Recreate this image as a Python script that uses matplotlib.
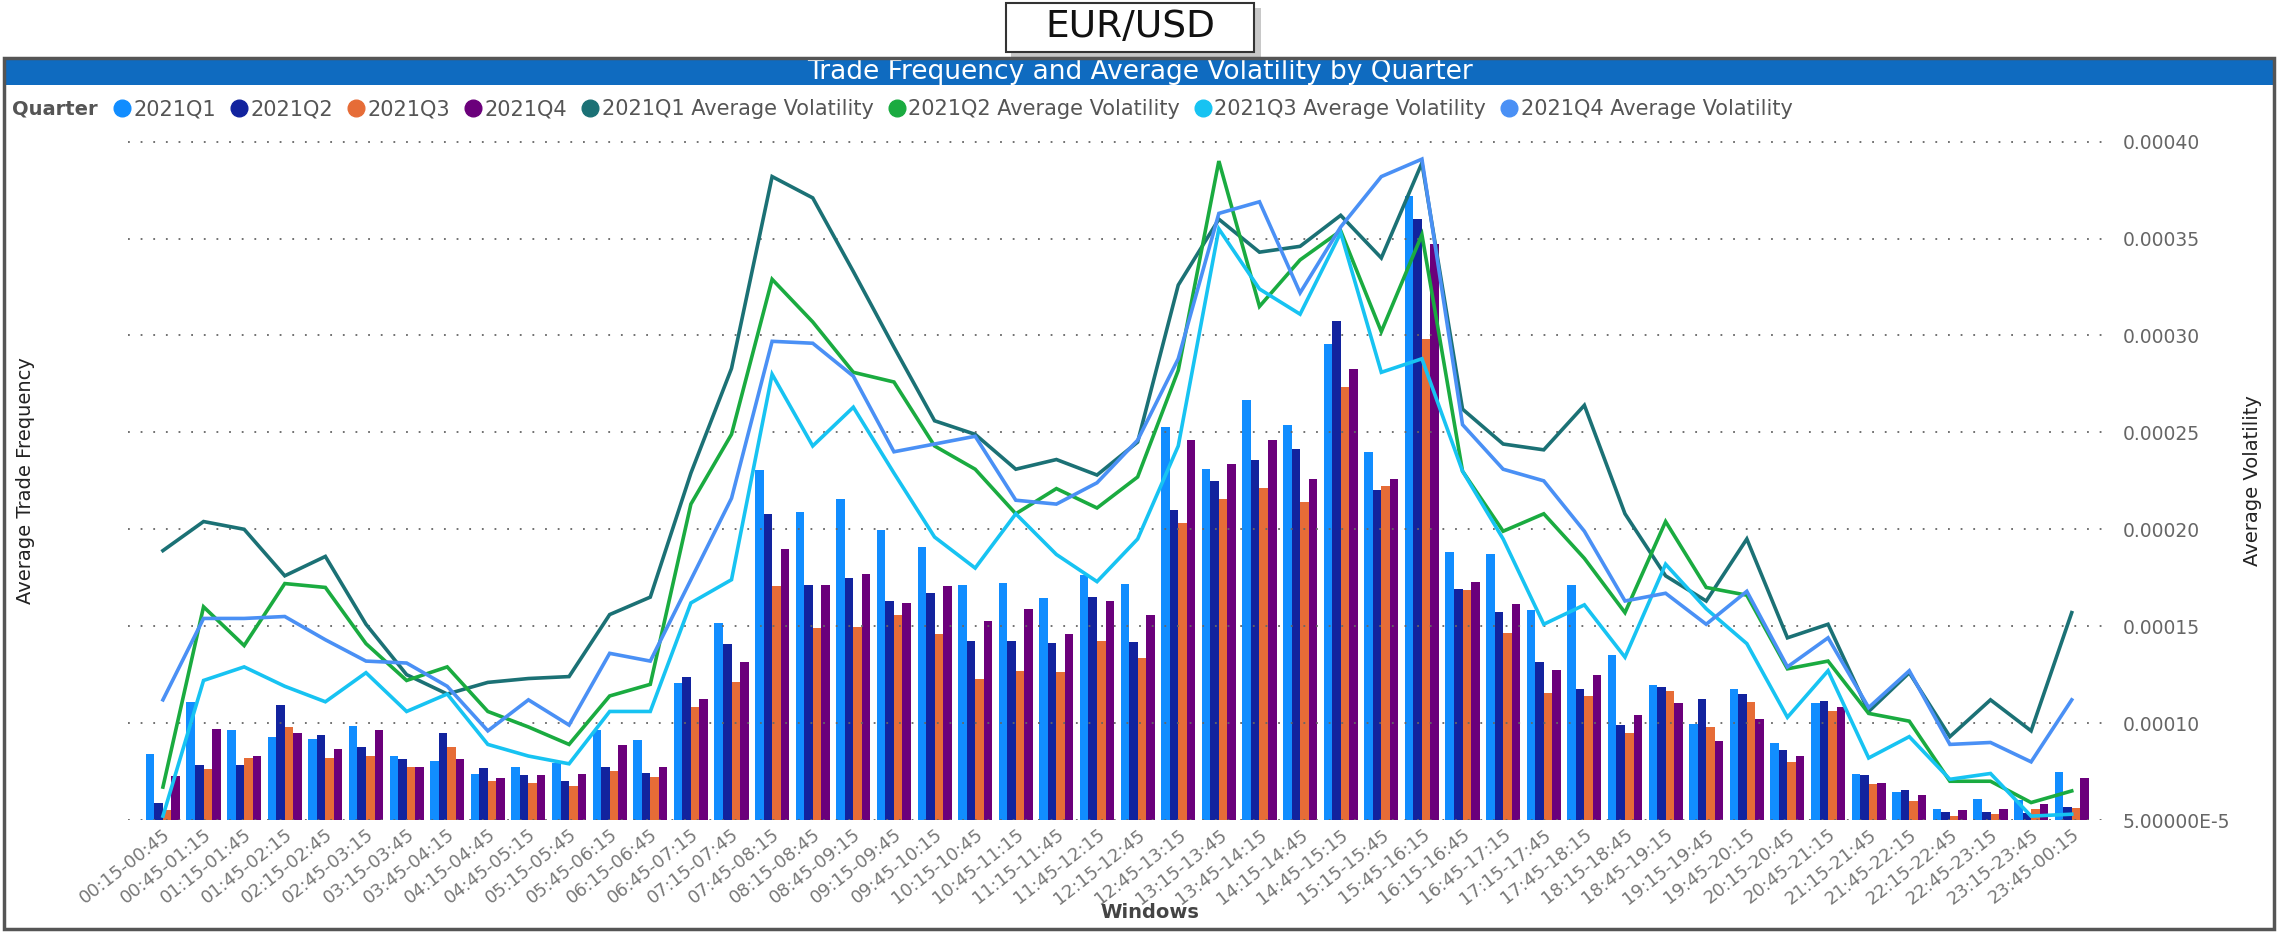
import numpy as np
import matplotlib
matplotlib.use('Agg')
from matplotlib import pyplot as plt
from matplotlib.lines import Line2D
from matplotlib.patches import Rectangle

plt.rcParams['font.family'] = ['DejaVu Sans']

# 30 minute windows
windows = ['00:15-00:45', '00:45-01:15', '01:15-01:45', '01:45-02:15', '02:15-02:45', '02:45-03:15',
           '03:15-03:45', '03:45-04:15', '04:15-04:45', '04:45-05:15', '05:15-05:45', '05:45-06:15',
           '06:15-06:45', '06:45-07:15', '07:15-07:45', '07:45-08:15', '08:15-08:45', '08:45-09:15',
           '09:15-09:45', '09:45-10:15', '10:15-10:45', '10:45-11:15', '11:15-11:45', '11:45-12:15',
           '12:15-12:45', '12:45-13:15', '13:15-13:45', '13:45-14:15', '14:15-14:45', '14:45-15:15',
           '15:15-15:45', '15:45-16:15', '16:15-16:45', '16:45-17:15', '17:15-17:45', '17:45-18:15',
           '18:15-18:45', '18:45-19:15', '19:15-19:45', '19:45-20:15', '20:15-20:45', '20:45-21:15',
           '21:15-21:45', '21:45-22:15', '22:15-22:45', '22:45-23:15', '23:15-23:45', '23:45-00:15']

# average trade frequency (bars, left axis)
freq_q1 = [6.8, 12.2, 9.3, 8.6, 8.4, 9.7, 6.6, 6.1, 4.7, 5.5, 5.9, 9.3, 8.3, 14.1, 20.3, 36.1,
           31.8, 33.1, 29.9, 28.2, 24.3, 24.5, 22.9, 25.3, 24.4, 40.6, 36.2, 43.3, 40.8, 49.1, 38.0, 64.4,
           27.7, 27.4, 21.7, 24.3, 17.0, 13.9, 9.9, 13.5, 7.9, 12.1, 4.7, 2.9, 1.1, 2.2, 2.1, 5.0]
freq_q2 = [1.8, 5.7, 5.7, 11.9, 8.8, 7.5, 6.3, 9.0, 5.4, 4.6, 4.0, 5.5, 4.8, 14.8, 18.2, 31.6,
           24.2, 25.0, 22.6, 23.4, 18.5, 18.5, 18.3, 23.0, 18.4, 32.0, 35.0, 37.2, 38.3, 51.5, 34.1, 62.0,
           23.8, 21.5, 16.3, 13.5, 9.8, 13.7, 12.5, 13.0, 7.2, 12.3, 4.6, 3.1, 0.8, 0.8, 0.7, 1.3]
freq_q3 = [1.0, 5.3, 6.4, 9.6, 6.4, 6.6, 5.5, 7.5, 4.0, 3.8, 3.5, 5.1, 4.4, 11.7, 14.2, 24.1,
           19.8, 19.9, 21.2, 19.2, 14.5, 15.4, 15.3, 18.5, 16.7, 30.7, 33.1, 34.3, 32.8, 44.7, 34.5, 49.6,
           23.7, 19.3, 13.1, 12.8, 9.0, 13.3, 9.6, 12.2, 6.0, 11.2, 3.7, 2.0, 0.4, 0.6, 1.1, 1.2]
freq_q4 = [4.5, 9.4, 6.6, 9.0, 7.3, 9.3, 5.5, 6.3, 4.3, 4.6, 4.7, 7.7, 5.5, 12.5, 16.3, 28.0,
           24.2, 25.4, 22.4, 24.1, 20.5, 21.8, 19.2, 22.6, 21.2, 39.2, 36.7, 39.2, 35.2, 46.5, 35.2, 59.4,
           24.6, 22.3, 15.5, 15.0, 10.8, 12.1, 8.2, 10.4, 6.6, 11.7, 3.8, 2.6, 1.0, 1.1, 1.7, 4.3]

# average volatility, in units of 1e-5 (lines, right axis)
vol_q1 = [18.9, 20.4, 20.0, 17.6, 18.6, 15.1, 12.5, 11.5, 12.1, 12.3, 12.4, 15.6, 16.5, 22.9, 28.3, 38.2,
          37.1, 33.3, 29.4, 25.6, 24.9, 23.1, 23.6, 22.8, 24.5, 32.6, 36.0, 34.3, 34.6, 36.2, 34.0, 38.9,
          26.2, 24.4, 24.1, 26.4, 20.8, 17.6, 16.3, 19.5, 14.4, 15.1, 10.6, 12.6, 9.3, 11.2, 9.6, 15.7]
vol_q2 = [6.7, 16.0, 14.0, 17.2, 17.0, 14.1, 12.2, 12.9, 10.6, 9.8, 8.9, 11.4, 12.0, 21.3, 24.9, 32.9,
          30.7, 28.1, 27.6, 24.3, 23.1, 20.8, 22.1, 21.1, 22.7, 28.2, 39.0, 31.5, 33.9, 35.4, 30.2, 35.2,
          23.0, 19.9, 20.8, 18.5, 15.7, 20.4, 17.0, 16.6, 12.8, 13.2, 10.5, 10.1, 7.0, 7.0, 5.9, 6.5]
vol_q3 = [5.2, 12.2, 12.9, 11.9, 11.1, 12.6, 10.6, 11.5, 8.9, 8.3, 7.9, 10.6, 10.6, 16.2, 17.4, 28.0,
          24.3, 26.3, 22.9, 19.6, 18.0, 20.8, 18.7, 17.3, 19.5, 24.3, 35.5, 32.4, 31.1, 35.3, 28.1, 28.8,
          23.0, 19.5, 15.1, 16.1, 13.4, 18.2, 15.9, 14.1, 10.3, 12.7, 8.2, 9.3, 7.1, 7.4, 5.2, 5.3]
vol_q4 = [11.2, 15.4, 15.4, 15.5, 14.3, 13.2, 13.1, 11.9, 9.6, 11.2, 9.9, 13.6, 13.2, 17.4, 21.6, 29.7,
          29.6, 27.9, 24.0, 24.4, 24.8, 21.5, 21.3, 22.4, 24.6, 28.8, 36.3, 36.9, 32.2, 35.6, 38.2, 39.1,
          25.4, 23.1, 22.5, 19.9, 16.3, 16.7, 15.1, 16.8, 12.9, 14.4, 10.8, 12.7, 8.9, 9.0, 8.0, 11.2]

bar_names = ['2021Q1', '2021Q2', '2021Q3', '2021Q4']
line_names = ['2021Q1 Average Volatility', '2021Q2 Average Volatility',
              '2021Q3 Average Volatility', '2021Q4 Average Volatility']
bar_colors = ['#118DFF', '#12239E', '#E66C37', '#6B007B']
line_colors = ['#1B7175', '#1AAB40', '#17C3F2', '#4A90F5']

vol_ticks = [5e-5, 1e-4, 1.5e-4, 2e-4, 2.5e-4, 3e-4, 3.5e-4, 4e-4]
vol_tick_labels = ['5.00000E-5', '0.00010', '0.00015', '0.00020', '0.00025', '0.00030', '0.00035', '0.00040']

W, H = 2279, 933
fig = plt.figure(figsize=(W / 100, H / 100), dpi=100)

# ---- decoration: header box, frame, title bar ----
shadow = Rectangle((1011 / W, 1 - 58 / H), 250 / W, 50 / H, transform=fig.transFigure,
                   facecolor='#c8c8c8', edgecolor='none', zorder=0)
fig.patches.append(shadow)
hdr = Rectangle((1006 / W, 1 - 52 / H), 248 / W, 49 / H, transform=fig.transFigure,
                facecolor='white', edgecolor='#333333', lw=1.5, zorder=1)
fig.patches.append(hdr)
fig.text(1130 / W, 1 - 27 / H, 'EUR/USD', ha='center', va='center', fontsize=27, color='#111111')

frame = Rectangle((4 / W, 4 / H), 2270 / W, (H - 62) / H, transform=fig.transFigure,
                  facecolor='none', edgecolor='#555555', lw=2.5, zorder=5)
fig.patches.append(frame)
title_bar = Rectangle((5 / W, 1 - 85 / H), 2268 / W, 26 / H, transform=fig.transFigure,
                      facecolor='#0F6BC0', edgecolor='none', zorder=2)
fig.patches.append(title_bar)
fig.text(1140 / W, 1 - 72 / H, 'Trade Frequency and Average Volatility by Quarter', ha='center', va='center',
         fontsize=19, color='white')

# ---- axes ----
ax = fig.add_axes([128 / W, (H - 820) / H, (2103 - 128) / W, (820 - 132) / H])
ax2 = ax.twinx()

x = np.arange(len(windows))
bw = 0.21
for i, (vals, c) in enumerate(zip([freq_q1, freq_q2, freq_q3, freq_q4], bar_colors)):
    ax.bar(x + (i - 1.5) * bw, vals, width=bw, color=c, zorder=2)

for vals, c in zip([vol_q1, vol_q2, vol_q3, vol_q4], line_colors):
    ax2.plot(x, np.array(vals) * 1e-5, color=c, lw=2.6, solid_joinstyle='miter', zorder=3)

ax.set_xlim(-0.86, 47.77)
ax.set_ylim(0, 71)
ax2.set_ylim(5e-5, 4.05e-4)

ax.set_yticks([])
ax2.set_yticks(vol_ticks)
ax2.set_yticklabels(vol_tick_labels)
ax2.tick_params(axis='y', length=0, pad=14, labelsize=13.5, labelcolor='#666666')
ax2.grid(axis='y', color='#666666', linestyle=(0, (1, 6)), lw=1.3)
ax2.set_axisbelow(True)

ax.set_xticks(x)
ax.set_xticklabels(windows, rotation=38, ha='right', rotation_mode='anchor')
ax.tick_params(axis='x', length=0, pad=4, labelsize=13, labelcolor='#777777')

for a in (ax, ax2):
    for s in a.spines.values():
        s.set_visible(False)
ax.set_zorder(ax2.get_zorder() - 1)
ax.patch.set_visible(False)
ax2.patch.set_visible(False)

fig.text(26 / W, 0.485, 'Average Trade Frequency', rotation=90, ha='center', va='center',
         fontsize=14, color='#222222')
fig.text(2253 / W, 0.485, 'Average Volatility', rotation=90, ha='center', va='center',
         fontsize=14, color='#222222')
fig.text(1150 / W, 1 - 913 / H, 'Windows', ha='center', va='center', fontsize=14,
         fontweight='bold', color='#444444')

# ---- legend ----
fig.text(12 / W, 1 - 109 / H, 'Quarter', ha='left', va='center', fontsize=14,
         fontweight='bold', color='#555555')
handles = [Line2D([], [], marker='o', ls='none', ms=12, color=c) for c in bar_colors + line_colors]
fig.legend(handles, bar_names + line_names, loc='center left', bbox_to_anchor=(112 / W, 1 - 109 / H),
           ncol=8, frameon=False, fontsize=15, handletextpad=0.05, columnspacing=0.6,
           handlelength=1.0, borderaxespad=0, borderpad=0, labelcolor='#555555')

fig.savefig('out.png', dpi=100)
